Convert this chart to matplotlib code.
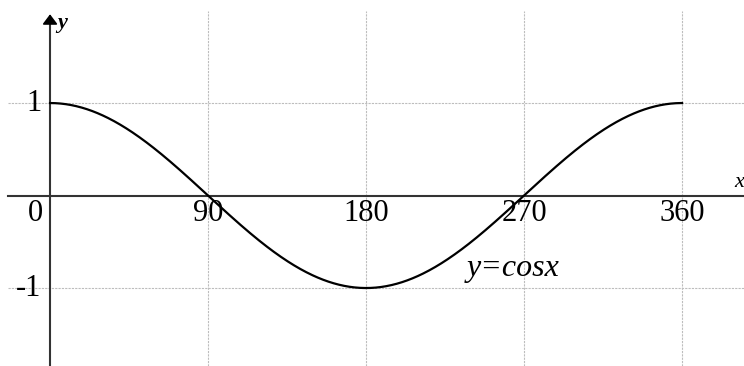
import numpy as np
import matplotlib.pyplot as plt

# tick positions and labels
x_ticks = [90, 180, 270, 360]
x_labels = ["90", "180", "270", "360"]
y_ticks = [1, -1]
y_labels = ["1", "-1"]
curve_label = "y=cosx"

# curve y = cos x over one period, x in degrees
deg = np.linspace(0, 360, 721)
cosv = np.cos(np.radians(deg))

plt.rcParams['font.family'] = ['Liberation Serif', 'DejaVu Serif']

fig = plt.figure(figsize=(7.44, 3.66), dpi=100)
ax = fig.add_axes([0, 0, 1, 1])
ax.set_xlim(-28.5, 395.3)
ax.set_ylim(-1.843, 2.114)
ax.axis("off")

grid_kw = dict(color="#bdbdbd", linewidth=0.8, linestyle=(0, (2, 1)), zorder=1)
for xt in x_ticks:
    ax.plot([xt, xt], [-1.843, 2.0], **grid_kw)
for yt in y_ticks:
    ax.plot([-24, 395.3], [yt, yt], **grid_kw)

# axes
ax.plot([-24, 395.3], [0, 0], color="#333333", linewidth=1.5, zorder=2)
ax.plot([0, 0], [-1.843, 1.9], color="#333333", linewidth=1.5, zorder=2)
ax.annotate("", xy=(0, 1.99), xytext=(0, 1.88),
            arrowprops=dict(arrowstyle="-|>,head_width=0.45,head_length=0.6",
                            color="black", lw=1.2), zorder=3)

ax.plot(deg, cosv, color="black", linewidth=1.6, zorder=4)

# labels
ax.text(4, 1.86, "y", fontsize=16, style="italic", fontweight="bold",
        ha="left", va="center")
ax.text(389.5, 0.14, "x", fontsize=16, style="italic", ha="left", va="center")
for xt, lab in zip(x_ticks, x_labels):
    ax.text(xt, -0.04, lab, fontsize=22, ha="center", va="top")
ax.text(-4, -0.04, "0", fontsize=22, ha="right", va="top")
for yt, lab in zip(y_ticks, y_labels):
    ax.text(-5, yt, lab, fontsize=22, ha="right", va="center")
ax.text(237.5, -0.79, curve_label, fontsize=23, style="italic", ha="left", va="center")

fig.savefig("out.png", dpi=100)
